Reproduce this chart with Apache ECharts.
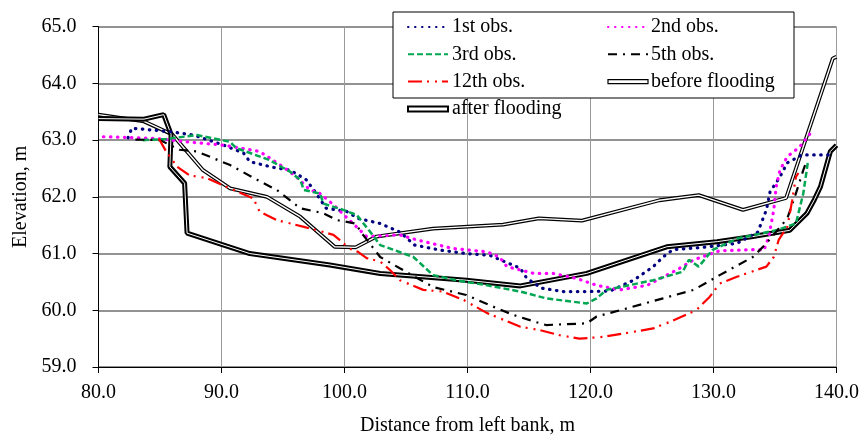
<!DOCTYPE html>
<html>
<head>
<meta charset="utf-8">
<script src="https://cdn.jsdelivr.net/npm/echarts@6/dist/echarts.min.js"></script>
<style>
  html, body { margin: 0; padding: 0; background: #fff; }
  #chart { width: 865px; height: 437px; }
</style>
</head>
<body>
<div id="chart"></div>
<script>
// cross-section survey, [distance m, elevation m]
var obs1 = [[82.4,63.04],[82.7,63.21],[85.8,63.15],[87.7,63.09],[90.2,62.91],[91.8,62.77],[92.3,62.62],[94.2,62.52],
  [95.6,62.47],[96.9,62.30],[97.7,62.06],[98.5,61.80],[100.2,61.74],[101.1,61.62],[102.9,61.53],[104.5,61.38],
  [105.7,61.15],[107.8,61.06],[109.9,61.00],[111.8,60.97],[114.3,60.74],[114.8,60.57],[116.0,60.39],[117.8,60.33],
  [119.7,60.33],[121.6,60.34],[123.5,60.53],[125.1,60.77],[125.9,60.94],[126.7,61.07],[129.2,61.11],[131.9,61.18],
  [133.6,61.38],[134.3,61.77],[134.6,62.09],[135.4,62.35],[136.0,62.60],[137.2,62.74],[139.4,62.74]];
var obs2 = [[80.4,63.06],[84.7,63.03],[87.2,62.97],[90.2,62.91],[93.1,62.80],[95.0,62.53],[96.1,62.35],[97.2,62.12],
  [98.0,62.06],[99.1,61.86],[100.4,61.59],[101.8,61.30],[104.5,61.33],[105.9,61.24],[108.8,61.09],[111.6,61.03],
  [112.6,60.94],[113.2,60.77],[115.4,60.65],[117.0,60.65],[118.9,60.56],[120.5,60.44],[122.4,60.36],[124.6,60.44],
  [127.0,60.71],[128.4,60.89],[130.5,61.05],[133.2,61.07],[134.1,61.06],[134.5,61.30],[134.9,61.77],[135.1,62.18],
  [135.4,62.47],[136.0,62.71],[137.0,62.88],[138.1,63.18]];
var obs3 = [[83.6,63.00],[85.5,63.02],[88.0,63.09],[90.7,62.97],[91.2,62.86],[93.9,62.65],[95.6,62.44],[96.4,62.30],
  [96.7,62.12],[98.0,62.06],[98.3,61.88],[99.9,61.77],[101.0,61.68],[102.1,61.38],[102.9,61.15],[105.6,60.94],
  [107.2,60.62],[109.1,60.53],[111.6,60.44],[114.3,60.33],[116.4,60.21],[119.7,60.12],[120.5,60.21],[121.3,60.36],
  [125.1,60.53],[127.5,60.68],[128.0,60.89],[128.8,60.77],[129.9,61.06],[132.0,61.27],[135.1,61.41],[136.7,61.53],
  [137.3,62.06],[137.7,62.65]];
var obs5 = [[83.0,63.01],[85.0,63.00],[86.6,62.83],[88.0,62.80],[90.7,62.56],[92.9,62.30],[94.5,62.12],[96.4,61.80],
  [98.3,61.71],[99.4,61.59],[100.9,61.53],[101.4,61.36],[102.9,60.94],[104.5,60.74],[107.2,60.41],[109.9,60.27],
  [111.8,60.09],[113.7,59.92],[115.9,59.77],[116.4,59.74],[119.7,59.77],[120.5,59.89],[122.4,60.00],[125.9,60.21],
  [128.4,60.36],[130.5,60.62],[133.2,60.94],[134.3,61.18],[136.0,61.62],[136.7,62.06],[137.3,62.47],[137.6,62.65]];
var obs12 = [[84.9,63.03],[85.5,62.80],[86.4,62.53],[87.4,62.38],[88.8,62.33],[90.7,62.15],[92.6,61.97],[93.1,61.74],
  [94.5,61.59],[96.7,61.47],[98.3,61.38],[99.1,61.33],[99.6,61.24],[100.4,61.09],[101.1,61.03],[101.8,60.92],
  [102.9,60.86],[103.7,60.71],[104.5,60.53],[106.4,60.36],[108.0,60.33],[109.7,60.18],[111.6,59.95],[114.3,59.71],
  [115.9,59.65],[117.5,59.56],[119.1,59.50],[121.0,59.53],[123.5,59.62],[125.1,59.68],[126.5,59.80],[128.6,60.00],
  [129.7,60.24],[130.5,60.47],[131.9,60.59],[134.3,60.77],[134.9,60.94],[135.3,61.24],[136.0,61.47],[136.4,61.94],
  [136.7,62.35],[136.9,62.42]];
var beforeFlood = [[80.0,63.45],[83.7,63.33],[86.0,63.10],[88.5,62.47],[90.7,62.15],[93.7,62.00],[96.4,61.65],
  [99.2,61.12],[100.9,61.11],[102.6,61.30],[107.2,61.44],[112.9,61.51],[115.8,61.62],[119.3,61.58],[125.6,61.94],
  [128.8,62.03],[132.4,61.77],[135.9,61.98],[139.7,64.44],[140.0,64.47]];
var afterFlood = [[80.0,63.38],[83.7,63.37],[85.3,63.45],[85.9,63.10],[85.8,62.53],[87.0,62.24],[87.2,61.36],
  [92.3,61.00],[98.8,60.80],[102.9,60.65],[109.9,60.53],[114.3,60.43],[119.7,60.65],[126.2,61.12],[130.3,61.21],
  [133.2,61.30],[136.2,61.41],[137.6,61.71],[138.2,61.95],[138.7,62.18],[139.5,62.80],[140.0,62.91]];

var font = 'Liberation Serif';

var chart = echarts.init(document.getElementById('chart'));

function obsLine(name, data, color, dash, width, cap) {
  return {
    name: name, type: 'line', data: data, symbol: 'none', z: 4,
    lineStyle: { color: color, width: width, type: dash, cap: cap || 'butt' },
    itemStyle: { color: color }
  };
}
function hideDot(name) {
  return { name: name, itemStyle: { opacity: 0 } };
}

var option = {
  animation: false,
  backgroundColor: '#fff',
  grid: { left: 98.5, right: 28.5, top: 26.7, bottom: 70, containLabel: false, outerBoundsMode: 'none' },
  xAxis: {
    type: 'value', min: 80, max: 140, interval: 10,
    name: 'Distance from left bank, m', nameLocation: 'middle', nameGap: 49,
    nameTextStyle: { fontFamily: font, fontSize: 20, color: '#000' },
    axisLine: { lineStyle: { color: '#000', width: 1 } },
    axisTick: { show: true, inside: false, length: 6, lineStyle: { color: '#000' } },
    axisLabel: { fontFamily: font, fontSize: 20, color: '#000', margin: 16,
      formatter: function (v) { return v.toFixed(1); } },
    splitLine: { show: true, lineStyle: { color: '#9a9a9a', width: 1 } }
  },
  yAxis: {
    type: 'value', min: 59, max: 65, interval: 1,
    name: 'Elevation, m', nameLocation: 'middle', nameRotate: 90, nameGap: 64,
    nameTextStyle: { fontFamily: font, fontSize: 20, color: '#000' },
    axisLine: { show: true, lineStyle: { color: '#000', width: 1 } },
    axisTick: { show: true, inside: false, length: 6, lineStyle: { color: '#000' } },
    axisLabel: { fontFamily: font, fontSize: 20, color: '#000', margin: 22,
      formatter: function (v) { return v.toFixed(1); } },
    splitLine: { show: true, lineStyle: { color: '#6e6e6e', width: 1.5 } }
  },
  graphic: [{
    type: 'rect', z: 50,
    shape: { x: 393, y: 12, width: 401, height: 86 },
    style: { fill: '#fff', stroke: '#000', lineWidth: 1 }
  }],
  legend: [{
    orient: 'vertical', left: 407, top: 17, padding: 0, z: 60,
    itemWidth: 40, itemHeight: 14, itemGap: 7.3,
    textStyle: { fontFamily: font, fontSize: 20, color: '#000', padding: [0, 0, 0, -1] },
    data: [hideDot('1st obs.'), hideDot('3rd obs.'), hideDot('12th obs.'),
      { name: 'after flooding', icon: 'path://M0,0h40v5h-40z',
        itemStyle: { color: '#fff', borderColor: '#000', borderWidth: 2 } }]
  }, {
    orient: 'vertical', left: 607, top: 17, padding: 0, z: 60,
    itemWidth: 40, itemHeight: 14, itemGap: 7.3,
    textStyle: { fontFamily: font, fontSize: 20, color: '#000', padding: [0, 0, 0, -2] },
    data: [hideDot('2nd obs.'), hideDot('5th obs.'),
      { name: 'before flooding', icon: 'path://M0,0h40v4h-40z',
        itemStyle: { color: '#fff', borderColor: '#000', borderWidth: 1.2 } }]
  }],
  series: [
    { name: 'before flooding', type: 'line', data: beforeFlood, symbol: 'none', z: 2,
      lineStyle: { color: '#000', width: 3.8 }, itemStyle: { color: '#000' } },
    { name: '_before', type: 'line', data: beforeFlood, symbol: 'none', z: 2, silent: true,
      lineStyle: { color: '#fff', width: 1.4 } },
    { name: 'after flooding', type: 'line', data: afterFlood, symbol: 'none', z: 3,
      lineStyle: { color: '#000', width: 5 }, itemStyle: { color: '#000' } },
    { name: '_after', type: 'line', data: afterFlood, symbol: 'none', z: 3, silent: true,
      lineStyle: { color: '#fff', width: 1 } },
    obsLine('1st obs.', obs1, '#000080', [0.5, 6.5], 3.2, 'round'),
    obsLine('2nd obs.', obs2, '#ff00ff', [0.5, 6.5], 3.2, 'round'),
    obsLine('3rd obs.', obs3, '#00a651', [6, 3], 2.5),
    obsLine('5th obs.', obs5, '#000000', [9, 6, 2, 6], 2.2),
    obsLine('12th obs.', obs12, '#ff0000', [14, 5, 2, 6, 2, 5], 2.2)
  ]
};

chart.setOption(option);
</script>
</body>
</html>
